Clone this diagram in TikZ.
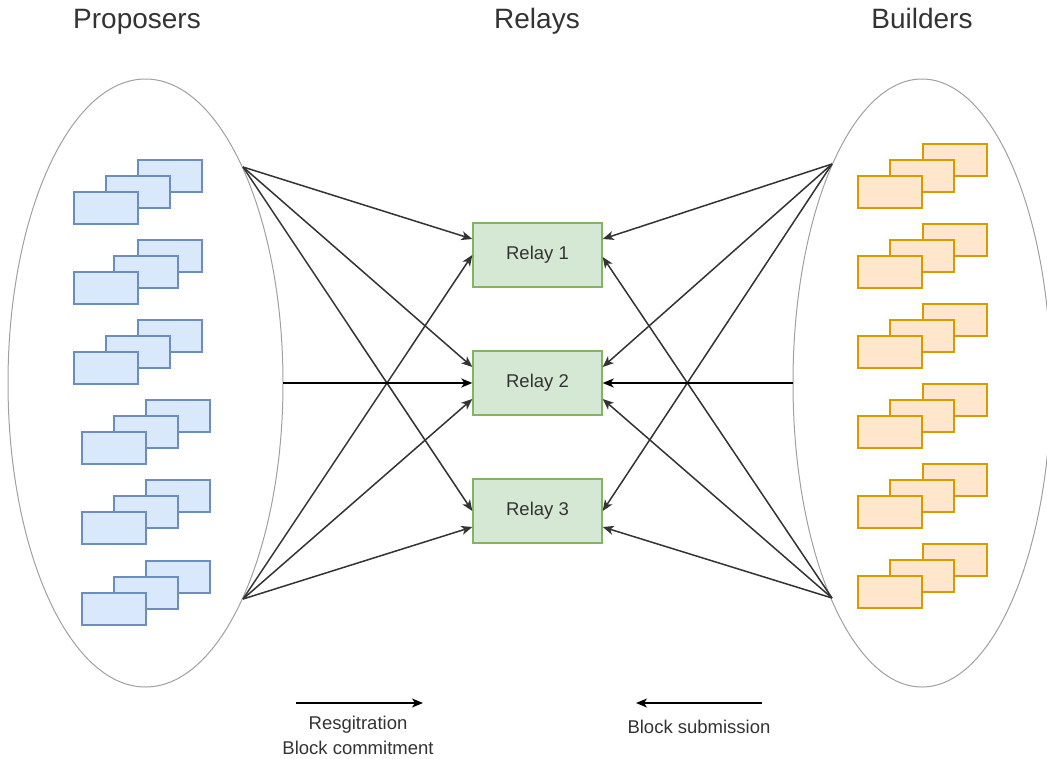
\documentclass[tikz,border=0pt]{standalone}
\usepackage{fontspec}
\setmainfont{Liberation Sans}
\usetikzlibrary{shapes.geometric,arrows.meta}

\definecolor{propfill}{HTML}{DAE8FC}
\definecolor{propline}{HTML}{6C8EBF}
\definecolor{bldfill}{HTML}{FFE6CC}
\definecolor{bldline}{HTML}{D79B00}
\definecolor{relayfill}{HTML}{D5E8D4}
\definecolor{relayline}{HTML}{82B366}
\definecolor{ink}{HTML}{333333}
\definecolor{poolline}{HTML}{A0A0A0}

\tikzset{
  pool/.style={draw=poolline, line width=1pt, ellipse, inner sep=0pt},
  propbox/.style={draw=propline, fill=propfill, line width=1.5pt, rectangle,
    minimum width=64pt, minimum height=32pt, inner sep=0pt, anchor=north west},
  bldbox/.style={draw=bldline, fill=bldfill, line width=1.5pt, rectangle,
    minimum width=64pt, minimum height=32pt, inner sep=0pt, anchor=north west},
  relaybox/.style={draw=relayline, fill=relayfill, line width=1.4pt, rectangle,
    minimum width=129pt, minimum height=64pt, inner sep=0pt, text=ink,
    font=\fontsize{18.5}{22}\selectfont},
  title/.style={text=ink, anchor=base, font=\fontsize{28}{34}\selectfont},
  caption/.style={text=ink, font=\fontsize{18.5}{25}\selectfont, align=center},
  link/.style={draw=ink, line width=1.5pt, -{Stealth[length=11pt,width=9pt,inset=3pt]}},
  flow/.style={draw=black, line width=1.5pt, -{Stealth[length=11pt,width=9pt,inset=3pt]}}
}

\begin{document}
\begin{tikzpicture}[x=1pt,y=-1pt]
\useasboundingbox (0,0) rectangle (1047,758);

% headings
\node[title] (tprop) at (137,28) {Proposers};
\node[title] (trelay) at (537,28) {Relays};
\node[title] (tbld) at (922,28) {Builders};

% the two pools
\node[pool, minimum width=275pt, minimum height=608pt] (ppool) at (145.5,383) {};
\node[pool, minimum width=258pt, minimum height=608pt] (bpool) at (922,383) {};

% proposer stacks: back, middle, front
\foreach \i/\bx/\by/\mx/\fx in {1/137/159/105/73, 2/137/239/113/73, 3/137/319/105/73,
                                4/145/399/113/81, 5/145/479/113/81, 6/145/560/113/81} {
  \node[propbox] (p\i a) at (\bx,\by) {};
  \node[propbox] (p\i b) at (\mx,\by+16) {};
  \node[propbox] (p\i c) at (\fx,\by+32) {};
}

% builder stacks: back, middle, front
\foreach \i/\ty in {1/143, 2/223, 3/303, 4/383, 5/463, 6/543} {
  \node[bldbox] (b\i a) at (922,\ty) {};
  \node[bldbox] (b\i b) at (889,\ty+16) {};
  \node[bldbox] (b\i c) at (857,\ty+32) {};
}

% relays
\node[relaybox] (r1) at (537.5,255) {Relay 1};
\node[relaybox] (r2) at (537.5,383) {Relay 2};
\node[relaybox] (r3) at (537.5,511) {Relay 3};

% connector origins on the pools
\coordinate (pT) at (243,167);
\coordinate (pB) at (243,599);
\coordinate (pM) at (283,383);
\coordinate (bT) at (832,164);
\coordinate (bB) at (832,598);
\coordinate (bM) at (793,383);

% proposers to relays
\draw[link] (pT) -- ([yshift=16pt]r1.west);
\draw[link] (pT) -- ([yshift=16pt]r2.west);
\draw[link] (pT) -- (r3.west);
\draw[link] (pB) -- (r1.west);
\draw[link] (pB) -- ([yshift=-16pt]r2.west);
\draw[link] (pB) -- ([yshift=-16pt]r3.west);
\draw[flow] (pM) -- (r2.west);

% builders to relays
\draw[link] (bT) -- ([yshift=16pt]r1.east);
\draw[link] (bT) -- ([yshift=16pt]r2.east);
\draw[link] (bT) -- (r3.east);
\draw[link] (bB) -- ([yshift=-2pt]r1.east);
\draw[link] (bB) -- ([yshift=-16pt]r2.east);
\draw[link] (bB) -- ([yshift=-16pt]r3.east);
\draw[flow] (bM) -- (r2.east);

% legend
\coordinate (la) at (296,703);
\coordinate (lb) at (423,703);
\coordinate (ra) at (762,703);
\coordinate (rb) at (636,703);
\draw[flow] (la) -- (lb);
\draw[flow] (ra) -- (rb);
\node[caption] (lcap) at (358,735.5) {Resgitration\\Block commitment};
\node[caption] (rcap) at (699,727) {Block submission};
\end{tikzpicture}
\end{document}
